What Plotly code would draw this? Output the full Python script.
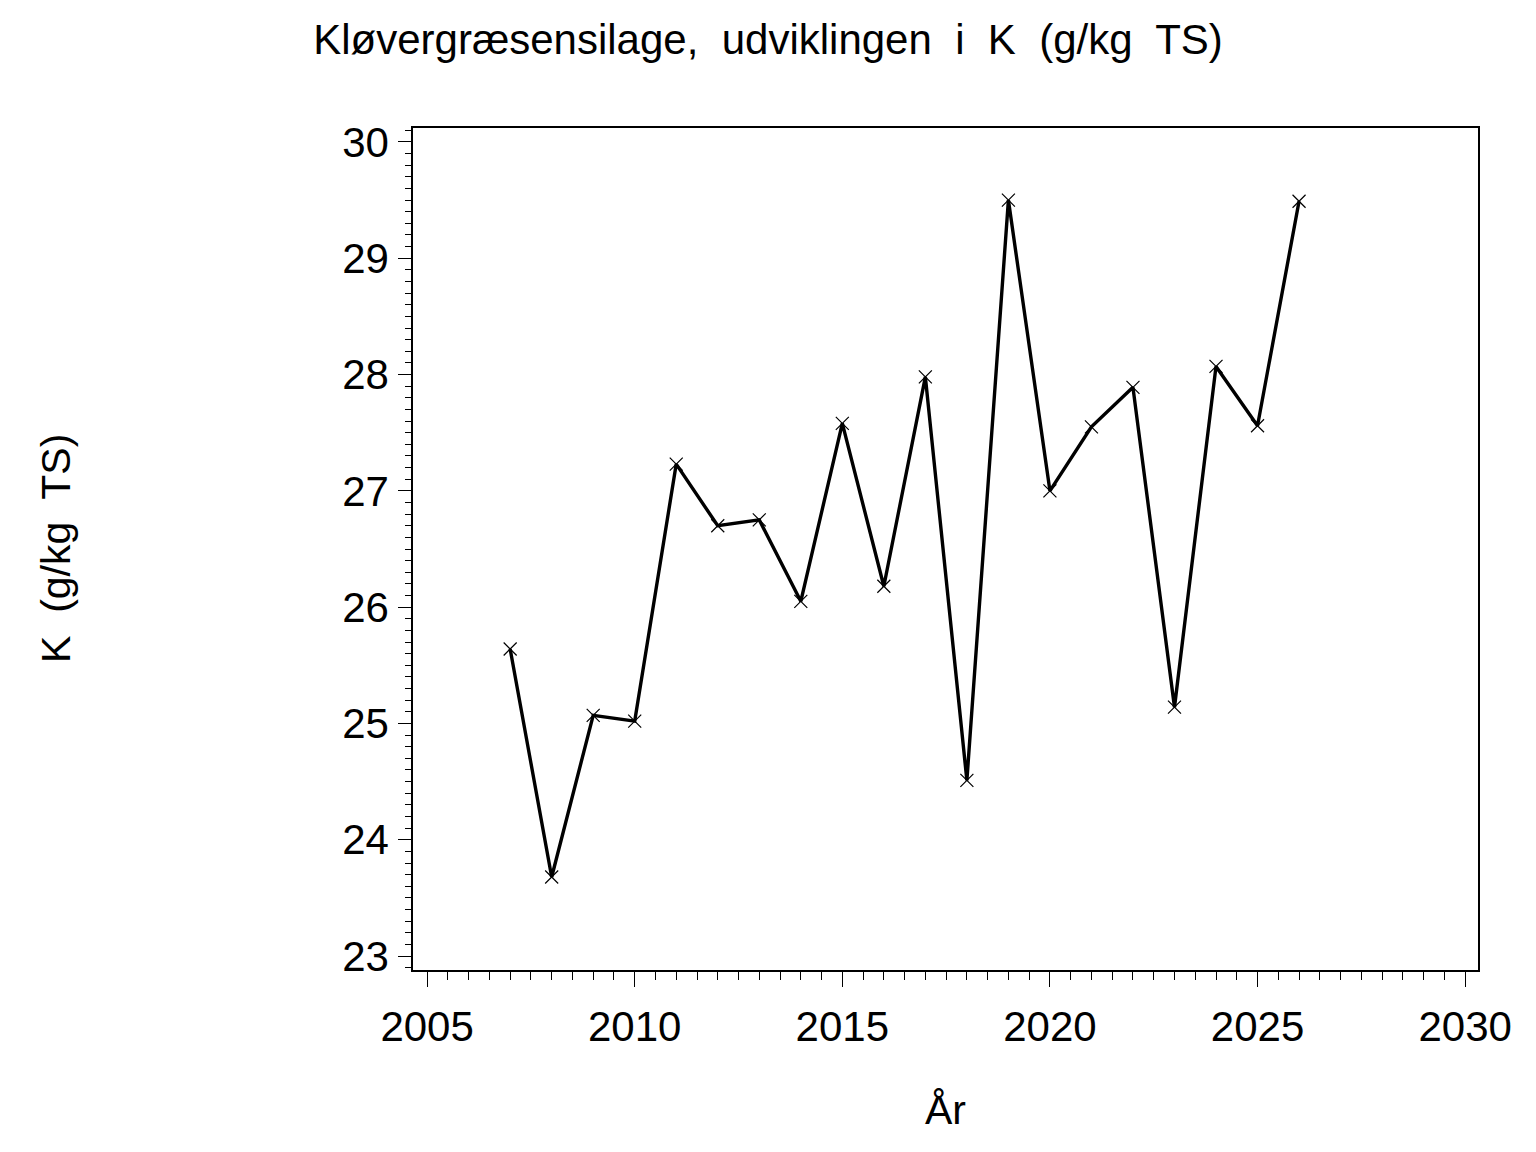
import plotly.graph_objects as go

years = [2007, 2008, 2009, 2010, 2011, 2012, 2013, 2014, 2015, 2016,
         2017, 2018, 2019, 2020, 2021, 2022, 2023, 2024, 2025, 2026]
k_values = [25.64, 23.68, 25.07, 25.02, 27.23, 26.70, 26.75, 26.05, 27.58, 26.18,
            27.98, 24.51, 29.50, 27.00, 27.55, 27.89, 25.14, 28.07, 27.56, 29.49]

title_text = "Kløvergræsensilage,\u00a0 udviklingen\u00a0 i\u00a0 K\u00a0 (g/kg\u00a0 TS)"
y_title = "K\u00a0 (g/kg\u00a0 TS)"
x_title = "År"
x_ticks = [2005, 2010, 2015, 2020, 2025, 2030]
y_ticks = [23, 24, 25, 26, 27, 28, 29, 30]

FONT = "Liberation Sans, Arial, sans-serif"

W, H = 1528, 1144
L, R, T, B = 405, 58, 120, 182
PW, PH = W - L - R, H - T - B

fig = go.Figure()
fig.add_trace(go.Scatter(
    x=years, y=k_values, mode="lines+markers",
    line=dict(color="black", width=3.4),
    marker=dict(symbol="x-thin", size=13, line=dict(color="black", width=1.2), color="black"),
    showlegend=False, hoverinfo="x+y",
))

fig.update_layout(
    width=W, height=H,
    paper_bgcolor="white", plot_bgcolor="white",
    margin=dict(l=L, r=R, t=T, b=B),
    font=dict(family=FONT, color="black", size=42),
    title=dict(text=title_text, xref="container", x=(768 - 8) / W, xanchor="center",
               yref="container", y=1 - 31 / H, yanchor="middle",
               font=dict(size=42, family=FONT, color="black")),
    annotations=[
        dict(text=y_title, xref="paper", yref="paper", x=-(L - 48) / PW, y=0.5,
             xanchor="center", yanchor="middle", textangle=-90, showarrow=False,
             font=dict(size=41, family=FONT, color="black")),
        dict(text=x_title, xref="paper", yref="paper", x=0.5, y=-(1110 - 970) / PH,
             xanchor="center", yanchor="middle", showarrow=False,
             font=dict(size=41, family=FONT, color="black")),
    ],
)

fig.update_xaxes(
    range=[2004.66, 2030.31], tickvals=x_ticks, ticktext=[str(v) for v in x_ticks],
    showgrid=False, zeroline=False, showline=True, linecolor="black", linewidth=1.5,
    mirror=True, ticks="outside", ticklen=15, tickwidth=1.2, tickcolor="black",
    tickfont=dict(size=42, family=FONT, color="black"), ticklabelstandoff=4,
    minor=dict(dtick=0.5, tick0=2005, ticks="outside", ticklen=8, tickwidth=1, tickcolor="black", showgrid=False),
)
fig.update_yaxes(
    range=[22.88, 30.12], tickvals=y_ticks, ticktext=[str(v) for v in y_ticks],
    showgrid=False, zeroline=False, showline=True, linecolor="black", linewidth=1.5,
    mirror=True, ticks="outside", ticklen=13, tickwidth=1.2, tickcolor="black",
    tickfont=dict(size=42, family=FONT, color="black"), ticklabelstandoff=1,
    minor=dict(dtick=0.1, tick0=23, ticks="outside", ticklen=6, tickwidth=1, tickcolor="black", showgrid=False),
)

fig.write_html("out.html")
